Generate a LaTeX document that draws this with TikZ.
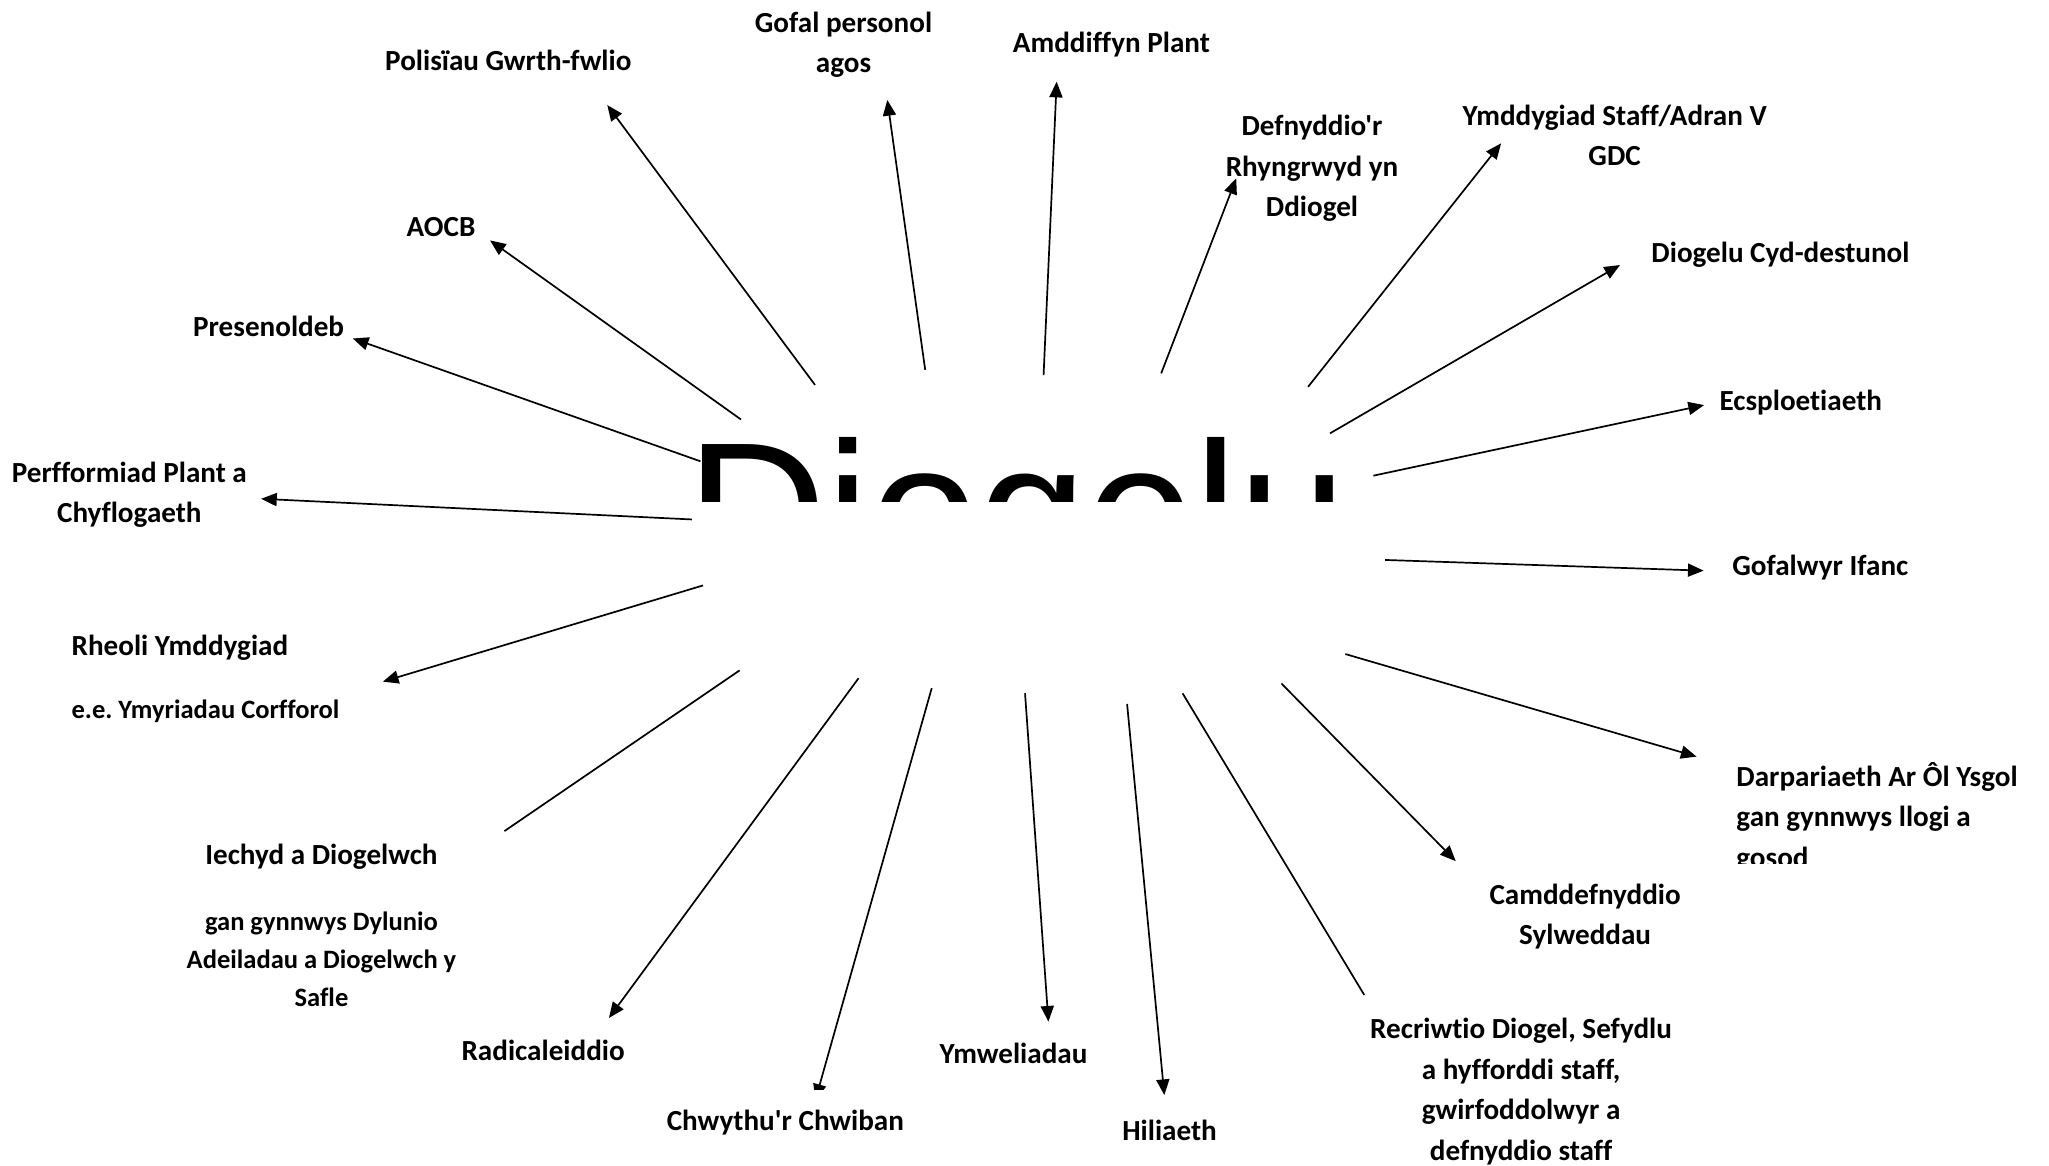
\documentclass[tikz,border=0pt]{standalone}
\usepackage{fontspec}
\setmainfont{Carlito}[Ligatures={TeXOff,CommonOff}]
\newfontfamily\arialf{Liberation Sans}
\usetikzlibrary{arrows.meta}
\frenchspacing
\begin{document}
\begin{tikzpicture}[x=1pt,y=-1pt,
  lbl/.style={font=\bfseries\fontsize{22.3}{31}\selectfont, inner sep=0pt, anchor=north, align=center},
  sml/.style={font=\bfseries\fontsize{20.3}{29}\selectfont},
  conn/.style={line width=1.3pt, black},
  arr/.style={conn, -{Triangle[length=12pt,width=10pt]}}]
\useasboundingbox (0,0) rectangle (1568,892);
% central title (lower half hidden)
\begin{scope}
\clip (480,300) rectangle (1060,384);
\node[font=\arialf\fontsize{149}{154}\selectfont, inner sep=0pt, anchor=base west] (ctr) at (525,443) {Diogelu};
\end{scope}
% labels
\node[lbl] (polisiau) at (389,38) {Polisïau Gwrth-fwlio};
\node[lbl] (gofal) at (645.5,9) {Gofal personol\\agos};
\node[lbl] (amdd) at (850.5,24.5) {Amddiffyn Plant};
\node[lbl] (defn) at (1004,88) {Defnyddio'r\\Rhyngrwyd yn\\Ddiogel};
\node[lbl] (ymdd) at (1235.6,80) {Ymddygiad Staff/Adran V\\GDC};
\node[lbl] (cyd) at (1362.5,185) {Diogelu Cyd-destunol};
\node[lbl] (ecsp) at (1378,298.4) {Ecsploetiaeth};
\node[lbl] (gofalwyr) at (1393,424.7) {Gofalwyr Ifanc};
\begin{scope}
\clip (1300,560) rectangle (1568,661);
\node[lbl, anchor=north west, align=left] (darp) at (1328.6,583) {Darpariaeth Ar Ôl Ysgol\\gan gynnwys llogi a\\gosod};
\end{scope}
\node[lbl] (camd) at (1213,676) {Camddefnyddio\\Sylweddau};
\node[lbl] (recr) at (1164,779) {Recriwtio Diogel, Sefydlu\\a hyfforddi staff,\\gwirfoddolwyr a\\defnyddio staff};
\node[lbl] (hil) at (895,857) {Hiliaeth};
\node[lbl] (ymw) at (775.6,798) {Ymweliadau};
\node[lbl] (chw) at (601,849.4) {Chwythu'r Chwiban};
\node[lbl] (rad) at (415.6,796) {Radicaleiddio};
\node[lbl, sml] (iech) at (246,646) {{\fontsize{22.3}{31}\selectfont Iechyd a Diogelwch}\\[21pt]gan gynnwys Dylunio\\Adeiladau a Diogelwch y\\Safle};
\node[lbl, sml, anchor=north west, align=left] (rheoli) at (54.6,486) {{\fontsize{22.3}{31}\selectfont Rheoli Ymddygiad}\\[19pt]e.e. Ymyriadau Corfforol};
\node[lbl] (perf) at (99,353) {Perfformiad Plant a\\Chyflogaeth};
\node[lbl] (pres) at (205.6,242) {Presenoldeb};
\node[lbl] (aocb) at (337.5,166) {AOCB};
% connector end points
\coordinate (s1) at (623.7,294.6);  \coordinate (e1) at (464.7,80.4);
\coordinate (s2) at (708,283);      \coordinate (e2) at (679,76.5);
\coordinate (s3) at (798.6,287);    \coordinate (e3) at (808.6,62.5);
\coordinate (s4) at (888.6,285.7);  \coordinate (e4) at (946,136.5);
\coordinate (s5) at (1001,296);     \coordinate (e5) at (1148.7,109.7);
\coordinate (s6) at (1017.8,331.6); \coordinate (e6) at (1239.7,202.8);
\coordinate (s7) at (1051,364);     \coordinate (e7) at (1304,310);
\coordinate (s8) at (1060,428.5);   \coordinate (e8) at (1303.7,436.7);
\coordinate (s9) at (1029.5,500.5); \coordinate (e9) at (1298.3,579);
\coordinate (s10) at (980.6,523);   \coordinate (e10) at (1114,659);
\coordinate (s11) at (905,530.6);   \coordinate (e11) at (1044,761.4);
\coordinate (s12) at (862.5,538.7); \coordinate (e12) at (891,838);
\coordinate (s13) at (784.4,530.5); \coordinate (e13) at (802.3,781.8);
\coordinate (s14) at (713,526.6);   \coordinate (e14) at (624,841.6);
\coordinate (s15) at (657,519);     \coordinate (e15) at (466,779);
\coordinate (s16) at (566,513);     \coordinate (e16) at (386,636);
\coordinate (s17) at (538,448);     \coordinate (e17) at (293,521.6);
\coordinate (s18) at (529.5,397.5); \coordinate (e18) at (199.8,381.7);
\coordinate (s19) at (536,353);     \coordinate (e19) at (270,259);
\coordinate (s20) at (567,321);     \coordinate (e20) at (375,184);
% connectors
\draw[arr] (s1) -- (e1);
\draw[arr] (s2) -- (e2);
\draw[arr] (s3) -- (e3);
\draw[arr] (s4) -- (e4);
\draw[arr] (s5) -- (e5);
\draw[arr] (s6) -- (e6);
\draw[arr] (s7) -- (e7);
\draw[arr] (s8) -- (e8);
\draw[arr] (s9) -- (e9);
\draw[arr] (s10) -- (e10);
\draw[conn] (s11) -- (e11);
\draw[arr] (s12) -- (e12);
\draw[arr] (s13) -- (e13);
\begin{scope}
\clip (590,500) rectangle (740,833.5);
\draw[arr] (s14) -- (e14);
\end{scope}
\draw[arr] (s15) -- (e15);
\draw[conn] (s16) -- (e16);
\draw[arr] (s17) -- (e17);
\draw[arr] (s18) -- (e18);
\draw[arr] (s19) -- (e19);
\draw[arr] (s20) -- (e20);
\end{tikzpicture}
\end{document}
